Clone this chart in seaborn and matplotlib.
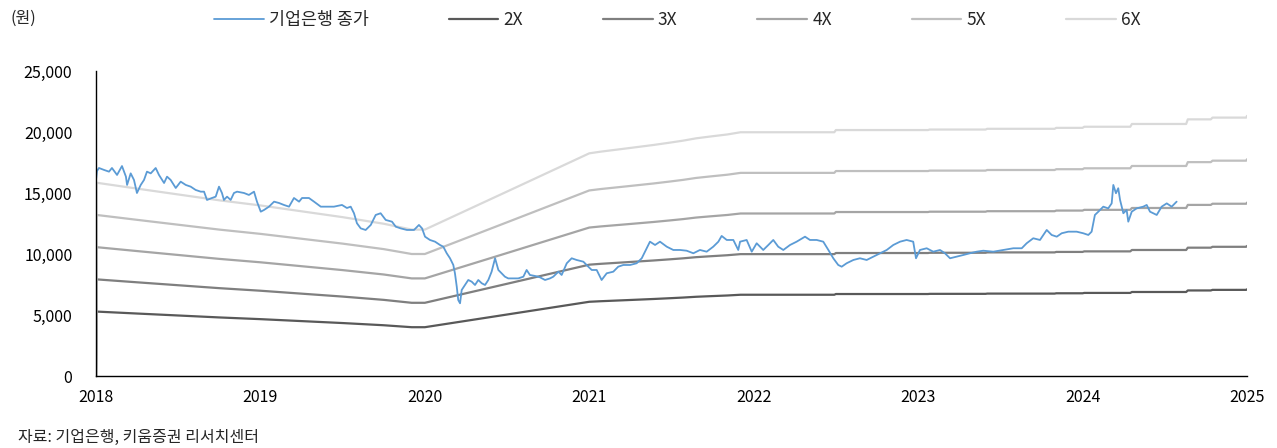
import numpy as np
import pandas as pd
import matplotlib
matplotlib.use("Agg")
import matplotlib.pyplot as plt
import seaborn as sns
from matplotlib.ticker import FuncFormatter

# 기업은행 종가 (x = 연도 소수, y = 원) - 그림에서 읽은 값
price_t = [2018.000, 2018.006, 2018.018, 2018.049, 2018.079, 2018.097, 2018.128, 2018.158, 2018.182,
           2018.189, 2018.211, 2018.231, 2018.249, 2018.272, 2018.292, 2018.310, 2018.333,
           2018.363, 2018.383, 2018.414, 2018.432, 2018.454, 2018.485, 2018.515, 2018.546,
           2018.576, 2018.606, 2018.637, 2018.657, 2018.675, 2018.705, 2018.728, 2018.748,
           2018.766, 2018.778, 2018.797, 2018.819, 2018.839, 2018.858, 2018.900, 2018.930,
           2018.961, 2018.979, 2019.002, 2019.022, 2019.052, 2019.083, 2019.113, 2019.143,
           2019.174, 2019.204, 2019.235, 2019.253, 2019.295, 2019.326, 2019.367, 2019.405,
           2019.447, 2019.496, 2019.526, 2019.549, 2019.569, 2019.587, 2019.610, 2019.640,
           2019.671, 2019.701, 2019.731, 2019.762, 2019.800, 2019.823, 2019.853, 2019.891,
           2019.934, 2019.964, 2019.983, 2020.001, 2020.031, 2020.062, 2020.092, 2020.112,
           2020.133, 2020.153, 2020.173, 2020.183, 2020.194, 2020.203, 2020.214, 2020.224,
           2020.244, 2020.264, 2020.285, 2020.305, 2020.325, 2020.346, 2020.366, 2020.386,
           2020.406, 2020.427, 2020.447, 2020.467, 2020.487, 2020.507, 2020.538, 2020.568,
           2020.599, 2020.619, 2020.639, 2020.670, 2020.700, 2020.731, 2020.761, 2020.781,
           2020.812, 2020.832, 2020.863, 2020.893, 2020.923, 2020.964, 2020.994, 2021.015,
           2021.045, 2021.075, 2021.106, 2021.146, 2021.176, 2021.207, 2021.248, 2021.288,
           2021.319, 2021.349, 2021.369, 2021.400, 2021.430, 2021.471, 2021.511, 2021.552,
           2021.592, 2021.633, 2021.673, 2021.714, 2021.754, 2021.785, 2021.805, 2021.836,
           2021.876, 2021.906, 2021.917, 2021.957, 2021.988, 2022.018, 2022.058, 2022.089,
           2022.119, 2022.149, 2022.180, 2022.221, 2022.261, 2022.312, 2022.342, 2022.383,
           2022.423, 2022.454, 2022.484, 2022.514, 2022.535, 2022.565, 2022.606, 2022.646,
           2022.687, 2022.727, 2022.768, 2022.809, 2022.849, 2022.890, 2022.930, 2022.970,
           2022.987, 2023.011, 2023.052, 2023.092, 2023.133, 2023.163, 2023.194, 2023.234,
           2023.275, 2023.315, 2023.356, 2023.396, 2023.457, 2023.518, 2023.579, 2023.630,
           2023.660, 2023.700, 2023.741, 2023.782, 2023.812, 2023.843, 2023.873, 2023.913,
           2023.964, 2024.004, 2024.035, 2024.055, 2024.075, 2024.096, 2024.126, 2024.156,
           2024.177, 2024.187, 2024.203, 2024.217, 2024.228, 2024.248, 2024.268, 2024.278,
           2024.299, 2024.329, 2024.369, 2024.390, 2024.410, 2024.451, 2024.481, 2024.512,
           2024.542, 2024.572]
price = [16070, 16800, 17050, 16890, 16750, 17050, 16480, 17210, 16340,
         15660, 16610, 16070, 15000, 15660, 16070, 16750, 16610,
         17050, 16480, 15820, 16340, 16070, 15410, 15930, 15660,
         15520, 15250, 15110, 15110, 14430, 14590, 14700, 15520,
         15000, 14430, 14700, 14430, 15000, 15110, 15000, 14840,
         15110, 14290, 13470, 13610, 13880, 14290, 14180, 14020,
         13880, 14590, 14290, 14590, 14590, 14290, 13880, 13880,
         13880, 14020, 13770, 13880, 13340, 12520, 12100, 11970,
         12380, 13200, 13340, 12790, 12650, 12240, 12100, 11970,
         11970, 12380, 12100, 11420, 11150, 11010, 10740, 10600,
         10060, 9650, 9100, 8420, 7320, 6230, 5960, 7050,
         7460, 7870, 7730, 7460, 7870, 7600, 7460, 7870,
         8550, 9650, 8690, 8420, 8140, 8000, 8000, 8000,
         8140, 8690, 8280, 8200, 8090, 7870, 8000, 8140,
         8550, 8280, 9240, 9650, 9510, 9370, 8960, 8690,
         8690, 7870, 8420, 8550, 8960, 9100, 9100, 9240,
         9650, 10470, 11010, 10740, 11010, 10600, 10330, 10330,
         10270, 10060, 10330, 10190, 10600, 11010, 11480, 11150,
         11150, 10330, 11010, 11150, 10190, 10880, 10330, 10740,
         11150, 10600, 10330, 10740, 11010, 11420, 11150, 11150,
         11010, 10330, 9650, 9100, 8960, 9240, 9510, 9650,
         9510, 9780, 10060, 10330, 10740, 11010, 11150, 11010,
         9650, 10330, 10470, 10190, 10330, 10060, 9650, 9780,
         9920, 10060, 10190, 10270, 10190, 10330, 10470, 10470,
         10880, 11290, 11150, 11970, 11560, 11420, 11700, 11830,
         11830, 11700, 11560, 11830, 13200, 13470, 13880, 13740,
         14150, 15660, 14980, 15390, 14430, 13340, 13610, 12650,
         13470, 13740, 13880, 14020, 13470, 13200, 13880, 14150,
         13880, 14290]

# 밴드 기준값 (1X, 원)
band_t = [2018.000, 2018.004, 2018.25, 2018.5, 2018.75, 2019.0, 2019.25, 2019.5,
          2019.75, 2019.92, 2020.0, 2020.5, 2021.0, 2021.07, 2021.23, 2021.39,
          2021.49, 2021.57, 2021.65, 2021.73, 2021.84, 2021.92, 2022.49, 2022.50,
          2023.06, 2023.07, 2023.41, 2023.42, 2023.83, 2023.84, 2024.00, 2024.01,
          2024.29, 2024.30, 2024.63, 2024.64, 2024.78, 2024.79, 2024.995, 2025.0]
band_base = [0, 2640, 2560, 2480, 2400, 2330, 2250, 2170,
             2080, 2000, 2000, 2520, 3042, 3065, 3110, 3156,
             3188, 3215, 3247, 3270, 3300, 3330, 3330, 3360,
             3360, 3367, 3367, 3377, 3377, 3390, 3390, 3405,
             3405, 3443, 3443, 3506, 3506, 3530, 3530, 3553]
multiples = [2, 3, 4, 5, 6]
band_colors = ["#595959", "#7f7f7f", "#a5a5a5", "#bfbfbf", "#d9d9d9"]
price_color = "#5b9bd5"

y_ticks = [0, 5000, 10000, 15000, 20000, 25000]
x_ticks = [2018, 2019, 2020, 2021, 2022, 2023, 2024, 2025]

sns.set_style("white")
plt.rcParams["font.family"] = ["Noto Sans CJK KR", "DejaVu Sans"]

fig = plt.figure(figsize=(12.77, 4.48), dpi=100)
ax = fig.add_axes([96 / 1277, 1 - 376 / 448, 1151 / 1277, 305 / 448])

bands = pd.DataFrame({"t": band_t, "base": band_base})
for m, c in zip(multiples, band_colors):
    sns.lineplot(x=bands["t"], y=bands["base"] * m, ax=ax, color=c, lw=1.6,
                 estimator=None, sort=False, label=f"{m}X")

sns.lineplot(x=price_t, y=price, ax=ax, color=price_color, lw=1.3,
             estimator=None, sort=False, label="기업은행 종가", zorder=5)

ax.set_xlim(2018, 2025)
ax.set_ylim(0, 25000)
ax.set_xticks(x_ticks)
ax.set_yticks(y_ticks)
ax.xaxis.set_major_formatter(FuncFormatter(lambda v, p: f"{int(round(v))}"))
ax.yaxis.set_major_formatter(FuncFormatter(lambda v, p: f"{int(v):,}"))
ax.set_xlabel("")
ax.set_ylabel("")
for s in ["top", "right"]:
    ax.spines[s].set_visible(False)
for s in ["left", "bottom"]:
    ax.spines[s].set_color("black")
    ax.spines[s].set_linewidth(1.0)
    ax.spines[s].set_zorder(6)
ax.tick_params(axis="both", which="major", direction="out", length=5, width=1,
               color="black", labelsize=11.5, labelcolor="black")
ax.tick_params(axis="y", pad=12)
ax.tick_params(axis="x", pad=4)

ax.get_legend().remove()
handles, labels = ax.get_legend_handles_labels()
order = [5, 0, 1, 2, 3, 4]
fig.legend([handles[i] for i in order], [labels[i] for i in order],
           loc="center left", bbox_to_anchor=(214 / 1277, 1 - 20 / 448),
           ncol=6, frameon=False, fontsize=12.5, handlelength=2.87,
           handletextpad=0.29, columnspacing=4.6, borderpad=0, borderaxespad=0)

fig.text(10 / 1277, 1 - 18 / 448, "(원)", fontsize=11.5, va="center", ha="left")
fig.text(18 / 1277, 1 - 437 / 448, "자료: 기업은행, 키움증권 리서치센터", fontsize=11.5,
         va="center", ha="left")

fig.savefig("out.png", dpi=100)
